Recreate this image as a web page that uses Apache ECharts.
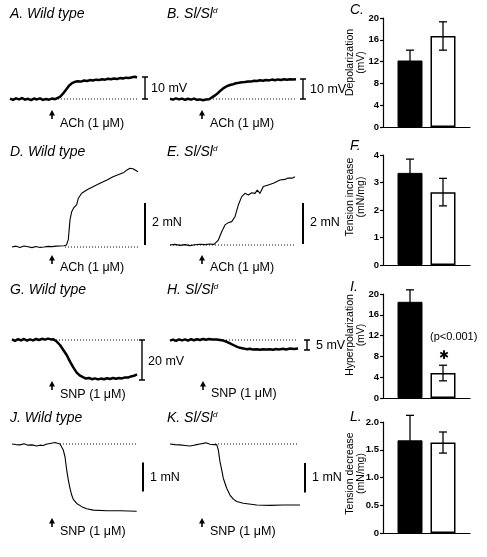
<!DOCTYPE html>
<html><head><meta charset="utf-8">
<script src="https://cdn.jsdelivr.net/npm/echarts@6/dist/echarts.min.js"></script>
<style>html,body{margin:0;padding:0;background:#fff}#c{width:487px;height:557px}</style>
</head><body><div id="c"></div>
<script>
// ---------- DATA ----------
// Membrane potential traces: [time index, mV relative to baseline]
const traceA = [[0,0.2],[3,-0.4],[6,0.3],[9,-0.2],[12,0.4],[15,-0.3],[18,0.1],[21,-0.5],[24,0.2],[27,-0.2],[30,0.3],[33,-0.4],[36,0.0],[39,-0.3],[42,0.2],[45,-0.1],[47,0.3],[50,1.0],[53,2.4],[56,4.2],[59,6.0],[62,7.2],[65,7.8],[68,8.1],[71,7.9],[74,8.4],[77,8.2],[80,8.6],[83,8.4],[86,8.8],[89,8.6],[92,9.0],[95,8.8],[98,9.2],[101,9.0],[104,9.3],[107,9.1],[110,9.5],[113,9.3],[116,9.7],[119,9.5],[122,9.9],[125,10.1],[127,9.8]];
const traceB = [[0,0.1],[3,-0.3],[6,0.3],[9,-0.2],[12,0.2],[15,-0.4],[18,0.1],[21,-0.3],[24,0.2],[27,-0.4],[30,-0.2],[33,-0.6],[36,-0.3],[39,-0.1],[42,0.8],[45,1.8],[48,3.0],[51,4.4],[54,5.6],[57,6.4],[60,7.0],[63,7.4],[66,7.9],[69,8.1],[72,8.4],[75,8.5],[78,8.8],[81,8.7],[84,9.1],[87,9.0],[90,9.4],[93,9.1],[96,9.5],[99,9.3],[102,9.7],[105,9.4],[108,9.8],[111,9.5],[114,9.9],[117,9.6],[120,9.9],[123,9.7],[126,9.9]];
// Tension traces: [time index, mN relative to baseline]
const traceD = [[2,0.0],[6,0.04],[10,-0.02],[14,0.05],[18,0.01],[22,-0.03],[26,0.02],[30,-0.02],[34,0.0],[38,0.03],[42,0.02],[46,0.04],[50,0.05],[54,0.06],[56.5,0.1],[58.3,0.35],[60,1.29],[61.7,1.68],[63.5,1.85],[65,1.92],[66.7,2.02],[68.3,2.32],[71.7,2.56],[76.7,2.71],[80,2.8],[83,2.87],[90,3.03],[97,3.19],[103,3.35],[110,3.48],[114,3.55],[117,3.67],[120,3.75],[122,3.7],[123,3.73],[125,3.66],[128,3.58]];
const traceE = [[0,0.0],[5,0.03],[10,-0.02],[15,0.02],[20,-0.03],[25,0.01],[30,0.04],[35,0.02],[40,0.05],[44,0.03],[46,0.06],[48.3,0.24],[51.7,0.65],[55,0.98],[58.3,1.09],[61.7,1.14],[65,1.38],[68.3,1.95],[71.7,2.36],[75,2.52],[78.3,2.44],[81.7,2.55],[85,2.52],[87.3,2.68],[90,2.52],[93.3,2.85],[98.3,2.93],[103.3,3.01],[110,3.17],[115,3.2],[118,3.27],[120,3.3],[122,3.26],[125,3.33]];
const traceG = [[2,0.3],[5,-0.4],[8,0.4],[11,-0.2],[14,0.5],[17,-0.3],[20,0.3],[23,-0.2],[26,0.5],[29,0.0],[32,0.6],[35,0.2],[38,0.7],[41,0.3],[43.3,0.4],[46.7,-0.8],[50,-2.5],[53.3,-5],[56.7,-7.5],[60,-10.8],[63.3,-13.7],[66.7,-16.3],[70,-17.8],[73,-18.6],[76,-19.3],[79,-19.0],[82,-19.6],[85,-19.2],[88,-19.7],[91,-19.3],[94,-19.6],[97,-19.1],[100,-19.5],[103,-19.0],[106,-19.4],[109,-19.0],[112,-19.2],[115,-18.7],[118,-18.8],[121,-18.2],[124,-17.9],[127,-17.2]];
const traceH = [[0,-0.3],[3,0.2],[6,-0.4],[9,0.3],[12,-0.2],[15,0.3],[18,-0.3],[21,0.4],[24,-0.1],[27,0.4],[30,0.0],[33,0.5],[36,0.1],[39,0.5],[42,0.2],[46.7,0.3],[50,0.0],[53.3,-0.3],[56.7,-0.9],[60,-1.7],[63.3,-2.5],[66.7,-3.3],[70,-3.9],[73.3,-4.2],[77,-4.6],[80,-4.4],[83,-4.8],[86.7,-4.6],[90,-4.9],[93,-4.6],[96,-4.8],[100,-4.6],[103,-4.9],[106,-4.5],[109,-4.7],[113,-4.4],[116,-4.7],[120,-4.3],[124,-4.5],[128,-4.3]];
const traceJ = [[2,0.0],[6,-0.02],[10,-0.03],[14,0.01],[18,-0.04],[22,-0.03],[26.7,-0.07],[30,-0.04],[33.3,-0.05],[36,-0.01],[40,0.02],[42,-0.01],[45,0.05],[47,0.02],[50,0.0],[53.3,-0.21],[55,-0.44],[56.7,-0.9],[58.3,-1.24],[60,-1.53],[61.7,-1.76],[63.3,-1.91],[66.7,-2.05],[71.7,-2.16],[76.7,-2.23],[83.3,-2.28],[96.7,-2.3],[110,-2.3],[126.7,-2.32]];
const traceK = [[0,0.0],[5,-0.02],[10,-0.03],[15,-0.05],[20,-0.07],[24,-0.04],[26.7,-0.02],[30,0.0],[33.3,0.02],[36,0.04],[38,0.01],[40,-0.01],[44,-0.02],[46.7,-0.02],[48.3,-0.2],[50,-0.6],[51.7,-0.88],[53.3,-1.16],[56.7,-1.5],[60,-1.73],[63.3,-1.87],[66.7,-1.95],[73.3,-2.01],[86.7,-2.07],[100,-2.08],[113,-2.07],[130,-2.07]];

// Scale bar sizes (in trace units)
const scaleMV = [10, 10, 20, 5];   // A, B, G, H
const scaleMN = [2, 2, 1, 1];      // D, E, J, K

// Bar charts: [Wild type, Sl/Sld]
const groups = ['Wild type', 'Sl/Sld'];
const depolMean = [12.2, 16.7],  depolSEM = [1.9, 2.6];
const tensIncMean = [3.35, 2.65], tensIncSEM = [0.5, 0.5];
const hyperMean = [18.5, 4.8],   hyperSEM = [2.3, 1.5];
const tensDecMean = [1.67, 1.63], tensDecSEM = [0.45, 0.19];
const depolTicks = [0, 4, 8, 12, 16, 20];
const tensIncTicks = [0, 1, 2, 3, 4];
const hyperTicks = [0, 4, 8, 12, 16, 20];
const tensDecTicks = [0, 0.5, 1.0, 1.5, 2.0];

// ---------- LAYOUT ----------
const FONT = '"Liberation Sans", Arial, Helvetica, sans-serif';
const chart = echarts.init(document.getElementById('c'), null, {renderer: 'canvas'});
const grids = [], xAxes = [], yAxes = [], series = [], graphics = [];

const tracePanels = [
  {trace: traceA, left: 10,  top: 20,  bottom: 135, base: 99,  ppu: 2.2,  lw: 2.5, dot: [48, 128], bar: {t: 135, from: 0, to: scaleMV[0], cap: 3}},
  {trace: traceB, left: 170, top: 20,  bottom: 135, base: 99,  ppu: 2.0,  lw: 2.5, dot: [37, 126], bar: {t: 133, from: 0, to: scaleMV[1], cap: 3}},
  {trace: traceD, left: 10,  top: 160, bottom: 275, base: 247, ppu: 21,   lw: 1.1, dot: [55, 128], bar: {t: 135, from: 0.1, to: 0.1 + scaleMN[0]}},
  {trace: traceE, left: 170, top: 160, bottom: 275, base: 245, ppu: 20.5, lw: 1.1, dot: [0, 125],  bar: {t: 133, from: 0.05, to: 0.05 + scaleMN[1]}},
  {trace: traceG, left: 10,  top: 300, bottom: 410, base: 340, ppu: 2.0,  lw: 2.5, dot: [43, 130], bar: {t: 132, from: 0, to: -scaleMV[2], cap: 3}},
  {trace: traceH, left: 170, top: 300, bottom: 410, base: 340, ppu: 2.0,  lw: 2.5, dot: [50, 128], bar: {t: 137, from: 0, to: -scaleMV[3], cap: 3}},
  {trace: traceJ, left: 10,  top: 430, bottom: 550, base: 444, ppu: 29,   lw: 1.1, dot: [50, 127], bar: {t: 133, from: -0.64, to: -0.64 - scaleMN[2]}},
  {trace: traceK, left: 170, top: 430, bottom: 550, base: 444, ppu: 29.5, lw: 1.1, dot: [45, 128], bar: {t: 135, from: -0.64, to: -0.64 - scaleMN[3]}}
];

tracePanels.forEach((p, i) => {
  grids.push({left: p.left, top: p.top, width: 150, height: p.bottom - p.top, outerBoundsMode: 'none'});
  xAxes.push({type: 'value', gridIndex: i, min: 0, max: 150, show: false});
  yAxes.push({type: 'value', gridIndex: i, min: -(p.bottom - p.base) / p.ppu, max: (p.base - p.top) / p.ppu, show: false});
  series.push({type: 'line', xAxisIndex: i, yAxisIndex: i, data: [[p.dot[0], 0], [p.dot[1], 0]], symbol: 'none',
    lineStyle: {color: '#111', width: 1, type: [1, 2]}, z: 1, animation: false, silent: true});
  series.push({type: 'line', xAxisIndex: i, yAxisIndex: i, data: p.trace, symbol: 'none',
    lineStyle: {color: '#000', width: p.lw, join: 'round'}, z: 2, animation: false, silent: true});
  const b = p.bar;
  const d = b.cap
    ? [[b.t - b.cap, b.from], [b.t + b.cap, b.from], [b.t, b.from], [b.t, b.to], [b.t - b.cap, b.to], [b.t + b.cap, b.to]]
    : [[b.t, b.from], [b.t, b.to]];
  series.push({type: 'line', xAxisIndex: i, yAxisIndex: i, data: d, symbol: 'none',
    lineStyle: {color: '#000', width: b.cap ? 1.4 : 2}, z: 3, animation: false, silent: true});
});

const barPanels = [
  {name: 'Depolarization\n(mV)', mean: depolMean, sem: depolSEM, ticks: depolTicks, top: 18, bottom: 127, up: 10},
  {name: 'Tension increase\n(mN/mg)', mean: tensIncMean, sem: tensIncSEM, ticks: tensIncTicks, top: 155, bottom: 265, up: 13},
  {name: 'Hyperpolarization\n(mV)', mean: hyperMean, sem: hyperSEM, ticks: hyperTicks, top: 294, bottom: 398, up: 11},
  {name: 'Tension decrease\n(mN/mg)', mean: tensDecMean, sem: tensDecSEM, ticks: tensDecTicks, top: 422, bottom: 533, up: 4,
   fmt: v => v === 0 ? '0' : v.toFixed(1)}
];

const HALF = 16.5; // half distance between the two bar centres (px)
barPanels.forEach((p, j) => {
  const i = tracePanels.length + j;
  grids.push({left: 383, top: p.top, width: 87, height: p.bottom - p.top, outerBoundsMode: 'none'});
  xAxes.push({type: 'category', gridIndex: i, data: [''], axisLine: {lineStyle: {color: '#000', width: 1.2}},
    axisTick: {show: false}, axisLabel: {show: false}});
  const t = p.ticks;
  yAxes.push({type: 'value', gridIndex: i, min: t[0], max: t[t.length - 1], interval: t[1] - t[0],
    axisLine: {show: true, lineStyle: {color: '#000', width: 1.2}},
    axisTick: {show: true, length: 3, lineStyle: {color: '#000', width: 1.2}},
    axisLabel: {color: '#000', fontSize: 9.5, fontWeight: 'bold', fontFamily: FONT, margin: 4, formatter: p.fmt || (v => String(v))},
    splitLine: {show: false},
    name: p.name, nameLocation: 'middle', nameGap: 17, nameMoveOverlap: false,
    nameTextStyle: {color: '#000', fontSize: 10.5, fontFamily: FONT, lineHeight: 10.5, padding: [0, 0, 0, 2 * p.up]}});
  series.push({type: 'bar', name: groups[0], xAxisIndex: i, yAxisIndex: i, data: [p.mean[0]], barWidth: 25, barGap: '32%',
    itemStyle: {color: '#000', borderColor: '#000', borderWidth: 1}, animation: false, silent: true, z: 2});
  series.push({type: 'bar', name: groups[1], xAxisIndex: i, yAxisIndex: i, data: [p.mean[1]], barWidth: 25, barGap: '32%',
    itemStyle: {color: '#fff', borderColor: '#000', borderWidth: 1.5}, animation: false, silent: true, z: 2});
  series.push({type: 'custom', xAxisIndex: i, yAxisIndex: i, z: 5, animation: false, silent: true, clip: false,
    data: p.mean.map((m, k) => [0, m, p.sem[k]]),
    renderItem: (params, api) => {
      const m = api.value(1), e = api.value(2);
      const off = params.dataIndex === 0 ? -HALF : HALF;
      const x = api.coord([0, m])[0] + off;
      const yT = api.coord([0, m + e])[1], yB = api.coord([0, m - e])[1];
      const st = {stroke: '#000', lineWidth: 1.3};
      return {type: 'group', children: [
        {type: 'line', shape: {x1: x, y1: yT, x2: x, y2: yB}, style: st},
        {type: 'line', shape: {x1: x - 4, y1: yT, x2: x + 4, y2: yT}, style: st},
        {type: 'line', shape: {x1: x - 4, y1: yB, x2: x + 4, y2: yB}, style: st}
      ]};
    }});
});

// ---------- TEXT / ANNOTATIONS ----------
function txt(x, y, text, font, align) {
  graphics.push({type: 'text', x: x, y: y, z: 100, silent: true,
    style: {text: text, font: font, fill: '#000', align: align || 'left', verticalAlign: 'middle'}});
}
const TF = 'italic 14px ' + FONT;
const LF = '12.5px ' + FONT;
function slTitle(x, y, letter) {
  graphics.push({type: 'text', x: x, y: y, z: 100, silent: true,
    style: {text: '{t|' + letter + '. Sl/Sl}{s|d}', fill: '#000', align: 'left', verticalAlign: 'middle',
      rich: {t: {font: TF, fill: '#000'}, s: {font: 'italic 8px ' + FONT, fill: '#000', verticalAlign: 'top'}}}});
}
function arrow(x, y) {
  graphics.push({type: 'polygon', z: 100, silent: true, shape: {points: [[x - 3, y + 5.5], [x, y], [x + 3, y + 5.5]]}, style: {fill: '#000'}});
  graphics.push({type: 'rect', z: 100, silent: true, shape: {x: x - 0.8, y: y + 4, width: 1.6, height: 5}, style: {fill: '#000'}});
}
txt(10, 14, 'A. Wild type', TF);
slTitle(167, 14, 'B');
txt(350, 10, 'C.', TF);
txt(10, 152, 'D. Wild type', TF);
slTitle(167, 152, 'E');
txt(350, 146, 'F.', TF);
txt(10, 290, 'G. Wild type', TF);
slTitle(167, 290, 'H');
txt(350, 287, 'I.', TF);
txt(10, 418, 'J. Wild type', TF);
slTitle(167, 418, 'K');
txt(350, 417, 'L.', TF);

txt(151, 89, '10 mV', LF);
txt(310, 90, '10 mV', LF);
txt(152, 223, '2 mN', LF);
txt(310, 223, '2 mN', LF);
txt(148, 362, '20 mV', LF);
txt(316, 346, '5 mV', LF);
txt(150, 478, '1 mN', LF);
txt(312, 478, '1 mN', LF);

const stim = [
  [52, 110, 60, 124, 'ACh (1 μM)'], [202, 110, 210, 124, 'ACh (1 μM)'],
  [52, 255, 60, 268, 'ACh (1 μM)'], [202, 255, 210, 268, 'ACh (1 μM)'],
  [52, 381, 60, 395, 'SNP (1 μM)'], [203, 381, 211, 394, 'SNP (1 μM)'],
  [52, 518, 60, 532, 'SNP (1 μM)'], [202, 518, 210, 532, 'SNP (1 μM)']
];
stim.forEach(s => { arrow(s[0], s[1]); txt(s[2], s[3], s[4], LF); });

txt(430, 337, '(p<0.001)', '11px ' + FONT);
txt(444, 356, '✱', 'bold 12px "DejaVu Sans", sans-serif', 'center');

chart.setOption({
  backgroundColor: '#fff',
  animation: false,
  textStyle: {fontFamily: FONT},
  grid: grids, xAxis: xAxes, yAxis: yAxes, series: series,
  graphic: {elements: graphics}
});
</script></body></html>
